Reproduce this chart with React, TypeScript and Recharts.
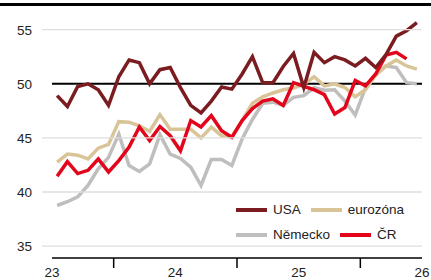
import React from 'react';
import { LineChart, Line, XAxis, YAxis, ReferenceLine, Legend } from 'recharts';

const usa = [48.9, 47.9, 49.75, 50.0, 49.45, 48.0, 50.65, 52.2, 51.95, 50.0, 51.3, 51.5, 49.65, 48.0, 47.3, 48.4, 49.7, 49.5, 50.9, 52.5, 50.1, 50.1, 51.6, 52.8, 49.65, 52.9, 51.95, 52.5, 52.2, 51.65, 52.35, 51.5, 52.7, 54.4, 54.9, 55.65];
const eurozone = [42.75, 43.5, 43.4, 43.05, 44.05, 44.4, 46.5, 46.45, 46.1, 45.6, 47.15, 45.8, 45.8, 45.8, 45.0, 46.0, 45.2, 45.1, 46.6, 48.2, 48.8, 49.15, 49.45, 49.6, 49.95, 50.65, 49.8, 50.0, 49.65, 48.8, 49.45, 50.8, 51.65, 52.2, 51.65, 51.35];
const germany = [38.75, 39.1, 39.55, 40.6, 42.15, 43.2, 45.35, 42.45, 41.9, 42.6, 45.3, 43.5, 43.1, 42.3, 40.6, 43.0, 43.0, 42.45, 44.9, 46.7, 48.2, 48.3, 48.0, 48.75, 48.9, 49.65, 49.4, 49.45, 48.4, 47.1, 49.65, 50.9, 51.65, 51.5, 50.1, 50.0];
const czech = [41.45, 42.8, 41.7, 42.0, 43.05, 41.85, 42.9, 44.15, 46.0, 44.75, 46.05, 45.2, 43.8, 46.6, 46.0, 47.05, 45.65, 45.05, 46.6, 47.7, 48.4, 48.6, 48.0, 50.1, 49.75, 49.45, 49.0, 47.2, 47.8, 50.3, 49.8, 50.9, 52.65, 52.9, 52.3];

const yTicks = [35, 40, 45, 50, 55];
const xTickLabels = ['23', '24', '25', '26'];
const xTickPositions = [0, 6, 12, 18, 24, 30, 36];
const seriesNames = ['USA', 'eurozóna', 'Německo', 'ČR'];

const COLORS = {
  usa: '#7a1c20',
  ez: '#d9c498',
  de: '#c0bebc',
  cz: '#e3051b',
};

const FONT = '"Liberation Sans", Arial, sans-serif';

const data = usa.map((v, i) => ({
  x: i + 0.5,
  usa: v,
  ez: eurozone[i],
  de: germany[i],
  cz: i < czech.length ? czech[i] : null,
}));

const YTick = (props: any) => {
  const { y, payload } = props;
  return (
    <g>
      {payload.value !== 50 && (
        <line x1={42} x2={422} y1={y} y2={y} stroke="#dedede" strokeWidth={1.3} />
      )}
      <text x={32} y={y} dy="0.36em" textAnchor="end" fontFamily={FONT} fontSize={13.5} fill="#222">
        {payload.value}
      </text>
    </g>
  );
};

const XTick = (props: any) => {
  const { x, y, payload } = props;
  const v = payload.value;
  if (v % 12 === 0) {
    return (
      <text x={x} y={y + 19} textAnchor="middle" fontFamily={FONT} fontSize={13.5} fill="#222">
        {xTickLabels[v / 12]}
      </text>
    );
  }
  return <line x1={x} x2={x} y1={y} y2={y + 10} stroke="#000" strokeWidth={1.5} />;
};

const legendItems = [
  { name: seriesNames[0], color: COLORS.usa },
  { name: seriesNames[1], color: COLORS.ez },
  { name: seriesNames[2], color: COLORS.de },
  { name: seriesNames[3], color: COLORS.cz },
];

const LegendContent = () => {
  const rows = [legendItems.slice(0, 2), legendItems.slice(2, 4)];
  return (
    <div style={{ fontFamily: FONT, fontSize: 13.5, color: '#222' }}>
      {rows.map((row, ri) => (
        <div key={ri} style={{ display: 'flex', alignItems: 'center', height: 25, gap: 10 }}>
          {row.map((it) => (
            <div key={it.name} style={{ display: 'flex', alignItems: 'center' }}>
              <div style={{ width: 31, height: 4, background: it.color, marginRight: 6 }} />
              <span>{it.name}</span>
            </div>
          ))}
        </div>
      ))}
    </div>
  );
};

export default function App() {
  return (
    <div style={{ position: 'absolute', left: 0, top: 0, width: 431, height: 280, background: '#fff' }}>
      <div style={{ position: 'absolute', left: 0, top: 3, width: 431, height: 3, background: '#000' }} />
      <LineChart width={431} height={280} data={data} margin={{ top: 8, right: 9, bottom: 2, left: 0 }}>
        <YAxis
          type="number"
          domain={[33.9, 57]}
          ticks={yTicks}
          width={52}
          axisLine={false}
          tickLine={false}
          tick={<YTick />}
          allowDataOverflow
          interval={0}
        />
        <XAxis
          type="number"
          dataKey="x"
          domain={[0, 36]}
          ticks={xTickPositions}
          interval={0}
          height={20}
          tickSize={0}
          tickMargin={0}
          tickLine={false}
          axisLine={{ stroke: '#000', strokeWidth: 1.5 }}
          tick={<XTick />}
          allowDataOverflow
        />
        <ReferenceLine y={50} stroke="#000" strokeWidth={2} />
        <Line dataKey="de" stroke={COLORS.de} strokeWidth={3.5} dot={false} isAnimationActive={false} type="linear" />
        <Line dataKey="ez" stroke={COLORS.ez} strokeWidth={3.5} dot={false} isAnimationActive={false} type="linear" />
        <Line dataKey="cz" stroke={COLORS.cz} strokeWidth={3.5} dot={false} isAnimationActive={false} type="linear" />
        <Line dataKey="usa" stroke={COLORS.usa} strokeWidth={3.5} dot={false} isAnimationActive={false} type="linear" />
        <Legend
          layout="vertical"
          align="center"
          verticalAlign="middle"
          content={<LegendContent />}
          wrapperStyle={{ position: 'absolute', left: 236, top: 197, width: 190, height: 50 }}
        />
      </LineChart>
    </div>
  );
}
